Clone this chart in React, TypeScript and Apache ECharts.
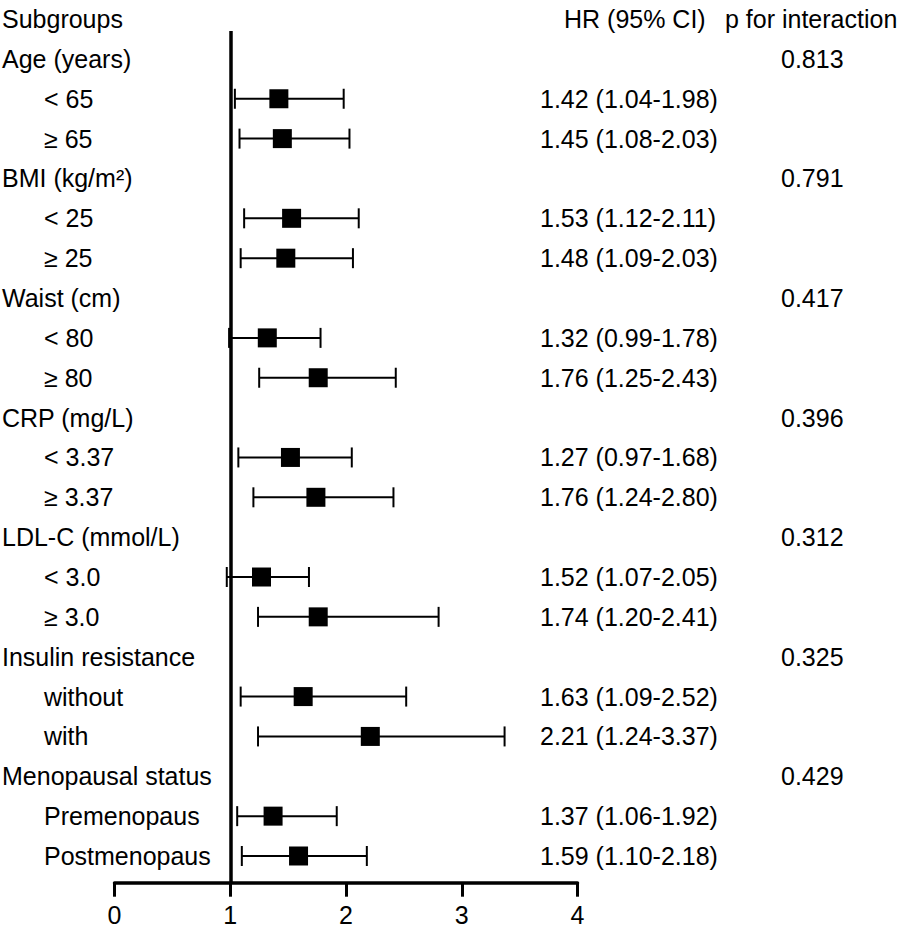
import React, { useEffect, useRef } from 'react';
import * as echarts from 'echarts';

// ---------- data ----------
const headerTexts = ['Subgroups', 'HR (95% CI)', 'p for interaction'];

const rowLabels = [
  'Age (years)', '< 65', '≥ 65',
  'BMI (kg/m²)', '< 25', '≥ 25',
  'Waist (cm)', '< 80', '≥ 80',
  'CRP (mg/L)', '< 3.37', '≥ 3.37',
  'LDL-C (mmol/L)', '< 3.0', '≥ 3.0',
  'Insulin resistance', 'without', 'with',
  'Menopausal status', 'Premenopaus', 'Postmenopaus',
];

const isSubRow = [
  false, true, true,
  false, true, true,
  false, true, true,
  false, true, true,
  false, true, true,
  false, true, true,
  false, true, true,
];

const hrTexts = [
  '', '1.42 (1.04-1.98)', '1.45 (1.08-2.03)',
  '', '1.53 (1.12-2.11)', '1.48 (1.09-2.03)',
  '', '1.32 (0.99-1.78)', '1.76 (1.25-2.43)',
  '', '1.27 (0.97-1.68)', '1.76 (1.24-2.80)',
  '', '1.52 (1.07-2.05)', '1.74 (1.20-2.41)',
  '', '1.63 (1.09-2.52)', '2.21 (1.24-3.37)',
  '', '1.37 (1.06-1.92)', '1.59 (1.10-2.18)',
];

const pTexts = [
  '0.813', '', '',
  '0.791', '', '',
  '0.417', '', '',
  '0.396', '', '',
  '0.312', '', '',
  '0.325', '', '',
  '0.429', '', '',
];

// plotted estimates as drawn in the figure
const hrPoint = [
  null, 1.42, 1.45,
  null, 1.53, 1.48,
  null, 1.32, 1.76,
  null, 1.52, 1.74,
  null, 1.27, 1.76,
  null, 1.63, 2.21,
  null, 1.37, 1.59,
];
const ciLower = [
  null, 1.04, 1.08,
  null, 1.12, 1.09,
  null, 0.99, 1.25,
  null, 1.07, 1.20,
  null, 0.97, 1.24,
  null, 1.09, 1.24,
  null, 1.06, 1.10,
];
const ciUpper = [
  null, 1.98, 2.03,
  null, 2.11, 2.06,
  null, 1.78, 2.43,
  null, 2.05, 2.41,
  null, 1.68, 2.80,
  null, 2.52, 3.37,
  null, 1.92, 2.18,
];

const referenceHR = 1;
const xMin = 0;
const xMax = 4;
const xInterval = 1;

// ---------- styles ----------
const FONT = '"Liberation Sans", Arial, Helvetica, sans-serif';
const FS = 25;
const COL_LABEL = 2;
const COL_SUB = 44;
const COL_HR = 540;
const COL_HR_HEAD = 564;
const COL_P = 781;
const COL_P_HEAD = 725;

export default function App() {
  const ref = useRef<HTMLDivElement>(null);

  useEffect(() => {
    document.body.style.margin = '0';
    if (!ref.current) return;
    const chart = echarts.init(ref.current, undefined, { renderer: 'svg' });

    const estData: number[][] = [];
    hrPoint.forEach((v, i) => {
      if (v !== null) estData.push([i, v as number, ciLower[i] as number, ciUpper[i] as number]);
    });

    // text rows: header at -1, then rows
    const textRows: number[][] = [[0, -1]];
    rowLabels.forEach((_, i) => textRows.push([0, i]));

    const txt = (x: number, y: number, text: string) => ({
      type: 'text',
      x,
      y,
      style: {
        text,
        fontSize: FS,
        fontFamily: FONT,
        fill: '#000',
        align: 'left',
        verticalAlign: 'middle',
      },
    });

    const option: any = {
      animation: false,
      backgroundColor: '#fff',
      grid: { left: 114.5, right: 320.5, top: 31, bottom: 49.3, containLabel: false },
      xAxis: {
        type: 'value',
        min: xMin,
        max: xMax,
        interval: xInterval,
        axisLine: { show: true, onZero: false, lineStyle: { color: '#000', width: 3.5 } },
        axisTick: { show: true, length: 14, lineStyle: { color: '#000', width: 3 } },
        axisLabel: { color: '#000', fontSize: FS, fontFamily: FONT, margin: 20 },
        splitLine: { show: false },
      },
      yAxis: {
        type: 'value',
        inverse: true,
        min: -0.7,
        max: 20.67,
        show: false,
        splitLine: { show: false },
      },
      series: [
        {
          type: 'custom',
          name: 'estimates',
          data: estData,
          encode: { x: [1, 2, 3], y: 0 },
          clip: false,
          renderItem: (params: any, api: any) => {
            const row = api.value(0);
            const pc = api.coord([api.value(1), row]);
            const lo = api.coord([api.value(2), row]);
            const up = api.coord([api.value(3), row]);
            const ls = { stroke: '#000', lineWidth: 2 };
            const half = 9.5;
            return {
              type: 'group',
              children: [
                { type: 'line', shape: { x1: lo[0], y1: lo[1], x2: up[0], y2: up[1] }, style: ls },
                { type: 'line', shape: { x1: lo[0], y1: lo[1] - 10, x2: lo[0], y2: lo[1] + 10 }, style: ls },
                { type: 'line', shape: { x1: up[0], y1: up[1] - 10, x2: up[0], y2: up[1] + 10 }, style: ls },
                {
                  type: 'rect',
                  shape: { x: pc[0] - half, y: pc[1] - half, width: half * 2, height: half * 2 },
                  style: { fill: '#000' },
                },
              ],
            };
          },
          markLine: {
            silent: true,
            symbol: ['none', 'none'],
            label: { show: false },
            lineStyle: { color: '#000', width: 3.5, type: 'solid' },
            data: [{ xAxis: referenceHR }],
          },
          z: 3,
        },
        {
          type: 'custom',
          name: 'texts',
          data: textRows,
          encode: { x: 0, y: 1 },
          clip: false,
          silent: true,
          renderItem: (params: any, api: any) => {
            const row = api.value(1);
            const y = api.coord([0, row])[1];
            if (row < 0) {
              return {
                type: 'group',
                children: [
                  txt(COL_LABEL, y, headerTexts[0]),
                  txt(COL_HR_HEAD, y, headerTexts[1]),
                  txt(COL_P_HEAD, y, headerTexts[2]),
                ],
              };
            }
            const children: any[] = [txt(isSubRow[row] ? COL_SUB : COL_LABEL, y, rowLabels[row])];
            if (hrTexts[row]) children.push(txt(COL_HR, y, hrTexts[row]));
            if (pTexts[row]) children.push(txt(COL_P, y, pTexts[row]));
            return { type: 'group', children };
          },
        },
      ],
    };

    chart.setOption(option);
    return () => {
      chart.dispose();
    };
  }, []);

  return (
    <div
      ref={ref}
      style={{ width: 898, height: 932, position: 'absolute', left: 0, top: 0, background: '#fff' }}
    />
  );
}
